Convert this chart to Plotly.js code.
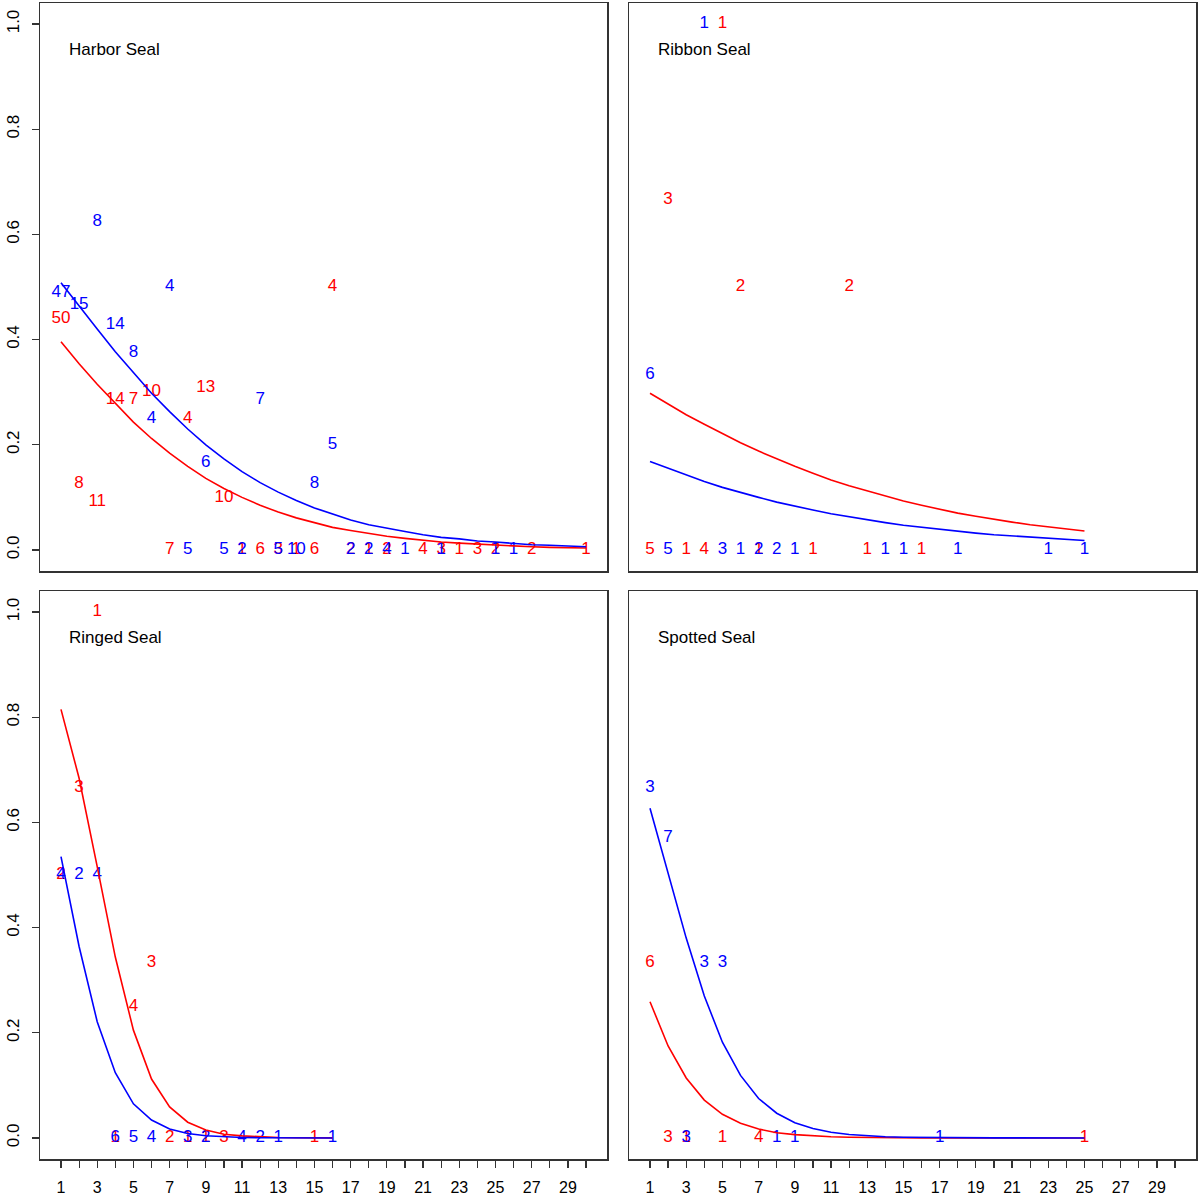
<!DOCTYPE html>
<html>
<head>
<meta charset="utf-8">
<script src="https://cdn.plot.ly/plotly-3.0.1.min.js"></script>
<style>
  html, body { margin: 0; padding: 0; background: #fff; }
  #chart { width: 1199px; height: 1199px; }
</style>
</head>
<body>
<div id="chart"></div>
<script>
// panel titles
const panelTitles = ['Harbor Seal', 'Ribbon Seal', 'Ringed Seal', 'Spotted Seal'];

// x tick labels (ticks at every integer, labels on odd ones)
const xTickVals = [1,2,3,4,5,6,7,8,9,10,11,12,13,14,15,16,17,18,19,20,21,22,23,24,25,26,27,28,29,30];
const xTickText = ['1','','3','','5','','7','','9','','11','','13','','15','','17','','19','','21','','23','','25','','27','','29',''];
const yTickVals = [0, 0.2, 0.4, 0.6, 0.8, 1.0];
const yTickText = ['0.0', '0.2', '0.4', '0.6', '0.8', '1.0'];

// ---- Harbor Seal: observed proportions (labels = sample size)
const harborRedX   = [1, 2, 3, 4, 5, 6, 7, 8, 9, 10, 11, 12, 13, 14, 15, 16, 17, 18, 19, 21, 22, 23, 24, 25, 27, 30];
const harborRedY   = [0.44, 0.125, 0.0909, 0.2857, 0.2857, 0.3, 0, 0.25, 0.3077, 0.1, 0, 0, 0, 0, 0, 0.5, 0, 0, 0, 0, 0, 0, 0, 0, 0, 0];
const harborRedLab = ['50','8','11','14','7','10','7','4','13','10','1','6','3','1','6','4','2','1','2','4','3','1','3','2','2','1'];
const harborBlueX   = [1, 2, 3, 4, 5, 6, 7, 8, 9, 10, 11, 12, 13, 14, 15, 16, 17, 18, 19, 20, 22, 25, 26];
const harborBlueY   = [0.4894, 0.4667, 0.625, 0.4286, 0.375, 0.25, 0.5, 0, 0.1667, 0, 0, 0.2857, 0, 0, 0.125, 0.2, 0, 0, 0, 0, 0, 0, 0];
const harborBlueLab = ['47','15','8','14','8','4','4','5','6','5','2','7','5','10','8','5','2','2','4','1','1','1','1'];
// fitted curves
const harborFitX = [1,2,3,4,5,6,7,8,9,10,11,12,13,14,15,16,17,18,19,20,21,22,23,24,25,26,27,28,29,30];
const harborRedFit  = [0.396,0.354,0.315,0.278,0.243,0.212,0.184,0.159,0.136,0.117,0.100,0.085,0.072,0.061,0.052,0.043,0.037,0.031,0.026,0.022,0.018,0.015,0.013,0.011,0.009,0.008,0.006,0.005,0.0045,0.0037];
const harborBlueFit = [0.508,0.463,0.420,0.377,0.337,0.298,0.263,0.230,0.200,0.173,0.149,0.128,0.110,0.094,0.080,0.068,0.057,0.048,0.041,0.035,0.029,0.024,0.021,0.017,0.015,0.012,0.010,0.009,0.007,0.006];

// ---- Ribbon Seal
const ribbonRedX   = [1, 2, 3, 4, 5, 6, 7, 10, 12, 13, 16];
const ribbonRedY   = [0, 0.6667, 0, 0, 1.0, 0.5, 0, 0, 0.5, 0, 0];
const ribbonRedLab = ['5','3','1','4','1','2','1','1','2','1','1'];
const ribbonBlueX   = [1, 2, 4, 5, 6, 7, 8, 9, 14, 15, 18, 23, 25];
const ribbonBlueY   = [0.3333, 0, 1.0, 0, 0, 0, 0, 0, 0, 0, 0, 0, 0];
const ribbonBlueLab = ['6','5','1','3','1','2','2','1','1','1','1','1','1'];
const ribbonFitX = [1,2,3,4,5,6,7,8,9,10,11,12,13,14,15,16,17,18,19,20,21,22,23,24,25];
const ribbonRedFit  = [0.298,0.277,0.257,0.239,0.221,0.204,0.188,0.173,0.159,0.146,0.133,0.122,0.112,0.102,0.093,0.085,0.077,0.070,0.064,0.058,0.053,0.048,0.044,0.040,0.036];
const ribbonBlueFit = [0.168,0.155,0.142,0.130,0.119,0.109,0.100,0.091,0.083,0.076,0.069,0.063,0.057,0.052,0.047,0.043,0.039,0.036,0.032,0.029,0.027,0.024,0.022,0.020,0.018];

// ---- Ringed Seal
const ringedRedX   = [1, 2, 3, 4, 5, 6, 7, 8, 9, 10, 15];
const ringedRedY   = [0.5, 0.6667, 1.0, 0, 0.25, 0.3333, 0, 0, 0, 0, 0];
const ringedRedLab = ['2','3','1','1','4','3','2','1','1','3','1'];
const ringedBlueX   = [1, 2, 3, 4, 5, 6, 8, 9, 11, 12, 13, 16];
const ringedBlueY   = [0.5, 0.5, 0.5, 0, 0, 0, 0, 0, 0, 0, 0, 0];
const ringedBlueLab = ['4','2','4','6','5','4','3','2','4','2','1','1'];
const ringedFitX = [1,2,3,4,5,6,7,8,9,10,11,12,13,14,15,16];
const ringedRedFit  = [0.815,0.684,0.516,0.344,0.205,0.112,0.059,0.030,0.015,0.007,0.004,0.002,0.001,0.0004,0.0002,0.0001];
const ringedBlueFit = [0.535,0.364,0.221,0.124,0.065,0.034,0.017,0.0085,0.0042,0.0021,0.001,0.0005,0.0003,0.0001,0.0001,0];

// ---- Spotted Seal
const spottedRedX   = [1, 2, 3, 5, 7, 25];
const spottedRedY   = [0.3333, 0, 0, 0, 0, 0];
const spottedRedLab = ['6','3','1','1','4','1'];
const spottedBlueX   = [1, 2, 3, 4, 5, 8, 9, 17];
const spottedBlueY   = [0.6667, 0.5714, 0, 0.3333, 0.3333, 0, 0, 0];
const spottedBlueLab = ['3','7','3','3','3','1','1','1'];
const spottedFitX = [1,2,3,4,5,6,7,8,9,10,11,12,13,14,15,16,17,18,19,20,21,22,23,24,25];
const spottedRedFit  = [0.259,0.175,0.114,0.072,0.045,0.028,0.017,0.010,0.0063,0.0038,0.0023,0.0014,0.0008,0.0005,0.0003,0.0002,0.0001,0.0001,0.0001,0,0,0,0,0,0];
const spottedBlueFit = [0.627,0.504,0.380,0.270,0.182,0.119,0.075,0.047,0.029,0.018,0.011,0.0065,0.0039,0.0024,0.0014,0.0009,0.0005,0.0003,0.0002,0.0001,0.0001,0.0001,0,0,0];

const RED = '#FF0000', BLUE = '#0000FF';
const FONT = 'Liberation Sans, Arial, sans-serif';

function panel(ax, redX, redY, redLab, blueX, blueY, blueLab, fitX, redFit, blueFit) {
  const xa = 'x' + ax, ya = 'y' + ax;
  const txt = (x, y, t, c) => ({
    x, y, text: t, mode: 'text', type: 'scatter', xaxis: xa, yaxis: ya,
    textposition: 'middle center', textfont: { family: FONT, size: 17, color: c },
    hoverinfo: 'skip', showlegend: false, cliponaxis: false
  });
  const line = (y, c) => ({
    x: fitX, y, mode: 'lines', type: 'scatter', xaxis: xa, yaxis: ya,
    line: { color: c, width: 1.6 }, hoverinfo: 'skip', showlegend: false
  });
  return [
    txt(redX, redY, redLab, RED),
    txt(blueX, blueY, blueLab, BLUE),
    line(redFit, RED),
    line(blueFit, BLUE)
  ];
}

const data = [].concat(
  panel('', harborRedX, harborRedY, harborRedLab, harborBlueX, harborBlueY, harborBlueLab, harborFitX, harborRedFit, harborBlueFit),
  panel('2', ribbonRedX, ribbonRedY, ribbonRedLab, ribbonBlueX, ribbonBlueY, ribbonBlueLab, ribbonFitX, ribbonRedFit, ribbonBlueFit),
  panel('3', ringedRedX, ringedRedY, ringedRedLab, ringedBlueX, ringedBlueY, ringedBlueLab, ringedFitX, ringedRedFit, ringedBlueFit),
  panel('4', spottedRedX, spottedRedY, spottedRedLab, spottedBlueX, spottedBlueY, spottedBlueLab, spottedFitX, spottedRedFit, spottedBlueFit)
);

const W = 1199;
const colL = [40 / W, 607 / W], colR = [629 / W, 1196 / W];
const rowT = [1 - 571 / W, 1 - 3 / W], rowB = [1 - 1159 / W, 1 - 591 / W];

function xAxis(domain, anchor, labels) {
  return {
    domain, anchor, range: [-0.16, 31.16],
    showgrid: false, zeroline: false,
    showline: true, mirror: true, linecolor: '#333', linewidth: 1.5,
    ticks: labels ? 'outside' : '', ticklen: 7, tickcolor: '#333', tickwidth: 1.2,
    tickmode: 'array', tickvals: xTickVals, ticktext: xTickText,
    ticklabelstandoff: 6,
    showticklabels: labels, tickfont: { family: FONT, size: 16, color: '#000' }
  };
}
function yAxis(domain, anchor, labels) {
  return {
    domain, anchor, range: [-0.04, 1.04],
    showgrid: false, zeroline: false,
    showline: true, mirror: true, linecolor: '#333', linewidth: 1.5,
    ticks: labels ? 'outside' : '', ticklen: 7, tickcolor: '#333', tickwidth: 1.2,
    tickmode: 'array', tickvals: yTickVals, ticktext: yTickText, tickangle: -90,
    ticklabelstandoff: 6,
    showticklabels: labels, tickfont: { family: FONT, size: 17, color: '#000' }
  };
}

const titleAnn = (t, ax) => ({
  text: t, xref: 'x' + ax, yref: 'y' + ax, x: 1.33, y: 0.952,
  xanchor: 'left', yanchor: 'middle', showarrow: false,
  font: { family: FONT, size: 17, color: '#000' }
});

const layout = {
  width: 1199, height: 1199,
  margin: { l: 0, r: 0, t: 0, b: 0 },
  paper_bgcolor: '#fff', plot_bgcolor: '#fff',
  showlegend: false,
  xaxis: xAxis(colL, 'y', false),
  yaxis: yAxis(rowT, 'x', true),
  xaxis2: xAxis(colR, 'y2', false),
  yaxis2: yAxis(rowT, 'x2', false),
  xaxis3: xAxis(colL, 'y3', true),
  yaxis3: yAxis(rowB, 'x3', true),
  xaxis4: xAxis(colR, 'y4', true),
  yaxis4: yAxis(rowB, 'x4', false),
  annotations: [
    titleAnn(panelTitles[0], ''),
    titleAnn(panelTitles[1], '2'),
    titleAnn(panelTitles[2], '3'),
    titleAnn(panelTitles[3], '4')
  ]
};

Plotly.newPlot('chart', data, layout, { displayModeBar: false, staticPlot: true });
</script>
</body>
</html>
